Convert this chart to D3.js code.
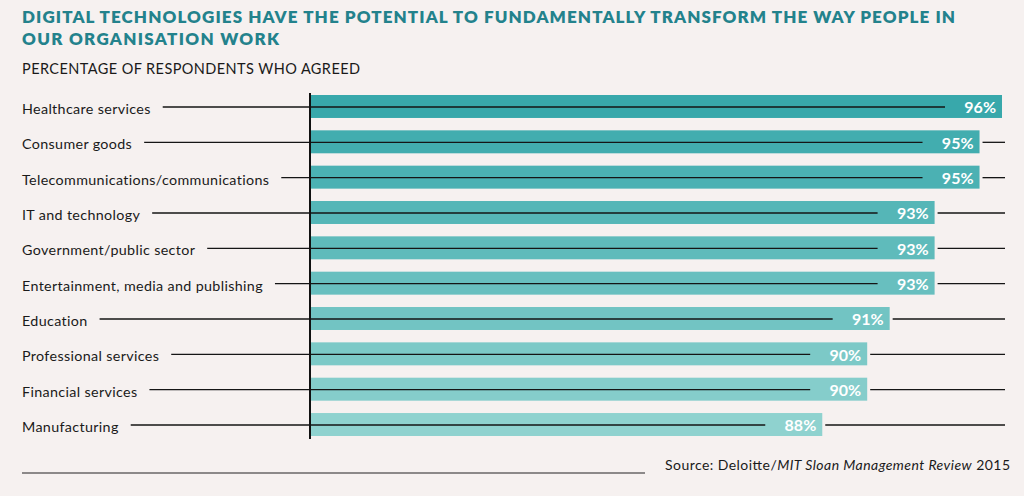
<!DOCTYPE html>
<html>
<head>
<meta charset="utf-8">
<script src="https://cdn.jsdelivr.net/npm/d3@7/dist/d3.min.js"></script>
<style>
  html, body { margin: 0; padding: 0; background: #f6f1f0; }
  svg { display: block; }
  text { font-family: Lato, "Open Sans", sans-serif; }
</style>
</head>
<body>
<svg id="chart" width="1024" height="496"></svg>
<script>
const titleLines = [
  "DIGITAL TECHNOLOGIES HAVE THE POTENTIAL TO FUNDAMENTALLY TRANSFORM THE WAY PEOPLE IN",
  "OUR ORGANISATION WORK"
];
const subtitle = "PERCENTAGE OF RESPONDENTS WHO AGREED";
const categories = [
  "Healthcare services",
  "Consumer goods",
  "Telecommunications/communications",
  "IT and technology",
  "Government/public sector",
  "Entertainment, media and publishing",
  "Education",
  "Professional services",
  "Financial services",
  "Manufacturing"
];
const values = [96, 95, 95, 93, 93, 93, 91, 90, 90, 88];
const sourceParts = [
  { t: "Source: Deloitte/", italic: false },
  { t: "MIT Sloan Management Review", italic: true },
  { t: " 2015", italic: false }
];

const svg = d3.select("#chart");
const W = 1024, H = 496;

svg.append("rect").attr("width", W).attr("height", H).attr("fill", "#f6f1f0");

// Title
const titleWidths = [933, 257];
titleLines.forEach((t, i) => {
  svg.append("text")
    .attr("x", 22).attr("y", 23 + i * 22)
    .attr("fill", "#23828c")
    .attr("font-size", 17)
    .attr("font-weight", 800)
    .attr("textLength", titleWidths[i])
    .attr("lengthAdjust", "spacing")
    .text(t);
});

svg.append("text")
  .attr("x", 22).attr("y", 74)
  .attr("fill", "#1a1a1a")
  .attr("font-size", 14.5)
  .attr("textLength", 338)
  .attr("lengthAdjust", "spacing")
  .text(subtitle);

// Scales
const x = d3.scaleLinear().domain([65.2, 96]).range([310, 1002]);
const y = d3.scaleBand().domain(categories).range([95, 436]).paddingInner(0.35).paddingOuter(0);

const colorScale = d3.scaleLinear()
  .domain([0, categories.length - 1])
  .range(["#38a8ab", "#8fd2cf"])
  .interpolate(d3.interpolateRgb);

const rows = categories.map((c, i) => ({ c, v: values[i], i }));

// Bars
svg.append("g").selectAll("rect").data(rows).join("rect")
  .attr("x", x.range()[0])
  .attr("y", d => y(d.c))
  .attr("width", d => x(d.v) - x.range()[0])
  .attr("height", y.bandwidth())
  .attr("fill", d => colorScale(d.i));

// Category labels
const labels = svg.append("g").selectAll("text").data(rows).join("text")
  .attr("x", 22)
  .attr("y", d => y(d.c) + y.bandwidth() / 2 + 2.5)
  .attr("dy", "0.35em")
  .attr("fill", "#1a1a1a")
  .attr("font-size", 14.3)
  .attr("letter-spacing", 0.35)
  .text(d => d.c);

// Rule lines
const lineG = svg.append("g");
labels.each(function(d) {
  const w = this.getComputedTextLength();
  const cy = y(d.c) + y.bandwidth() / 2 + 0.5;
  const end = x(d.v);
  lineG.append("line")
    .attr("x1", 22 + w + 12).attr("x2", end - 57)
    .attr("y1", cy).attr("y2", cy)
    .attr("stroke", "#151515").attr("stroke-width", 1.3);
  if (end < 995) {
    lineG.append("line")
      .attr("x1", end + 3).attr("x2", 1005)
      .attr("y1", cy).attr("y2", cy)
      .attr("stroke", "#151515").attr("stroke-width", 1.3);
  }
});

// Value labels
svg.append("g").selectAll("text").data(rows).join("text")
  .attr("x", d => x(d.v) - 6)
  .attr("y", d => y(d.c) + y.bandwidth() / 2 + 1)
  .attr("dy", "0.36em")
  .attr("text-anchor", "end")
  .attr("fill", "#ffffff")
  .attr("font-size", 16)
  .attr("font-weight", 700)
  .text(d => d.v + "%");

// Axis line
svg.append("line")
  .attr("x1", x.range()[0]).attr("x2", x.range()[0])
  .attr("y1", y.range()[0] - 2).attr("y2", y.range()[1] + 3)
  .attr("stroke", "#111").attr("stroke-width", 2);

// Source
const src = svg.append("text")
  .attr("x", 665).attr("y", 470)
  .attr("fill", "#1a1a1a")
  .attr("font-size", 14)
  .attr("textLength", 345)
  .attr("lengthAdjust", "spacing");
sourceParts.forEach(p => {
  src.append("tspan").attr("font-style", p.italic ? "italic" : "normal").text(p.t);
});
svg.append("line")
  .attr("x1", 22).attr("x2", 645)
  .attr("y1", 473).attr("y2", 473)
  .attr("stroke", "#222").attr("stroke-width", 1.2);
</script>
</body>
</html>
